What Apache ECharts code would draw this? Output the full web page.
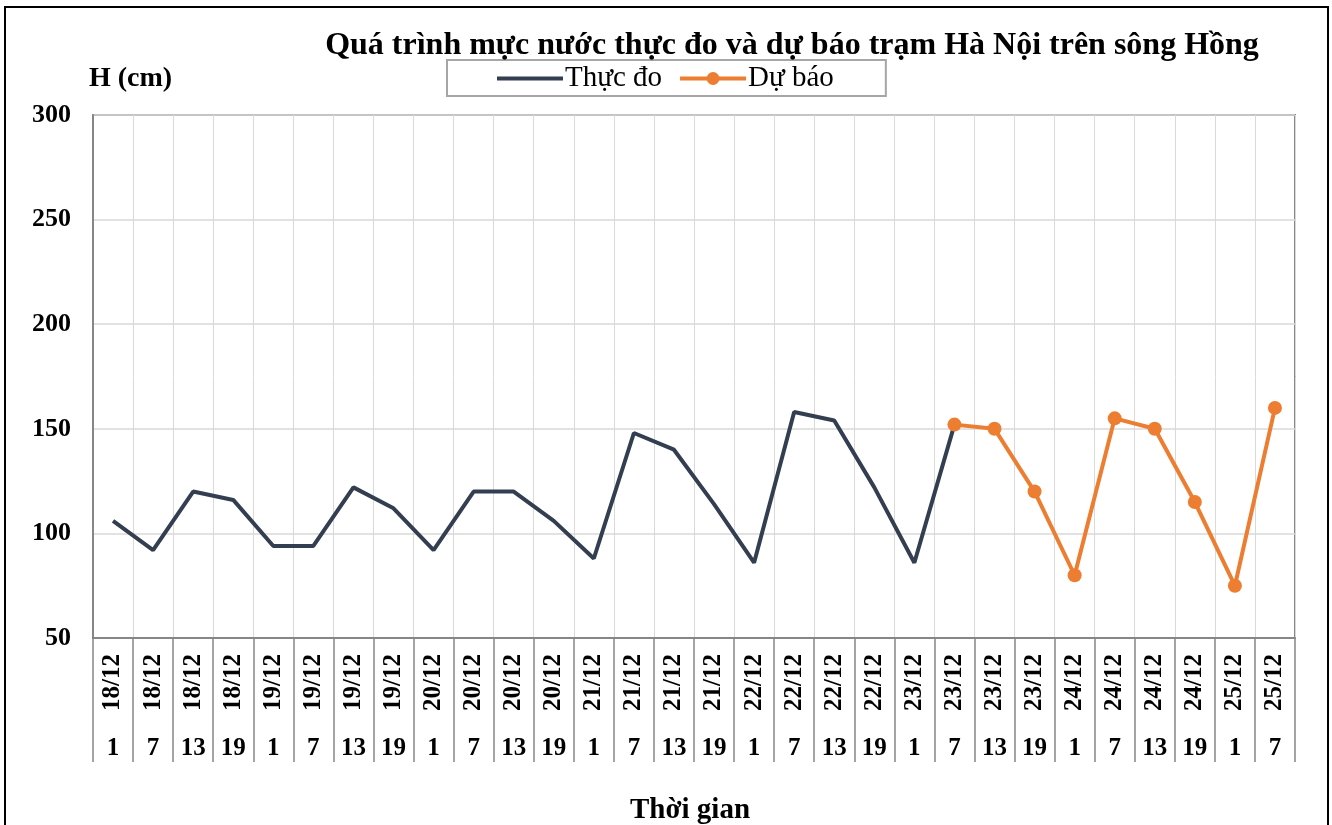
<!DOCTYPE html>
<html>
<head>
<meta charset="utf-8">
<script src="https://cdn.jsdelivr.net/npm/echarts@6/dist/echarts.min.js"></script>
<style>
html,body{margin:0;padding:0;background:#fff;}
#chart{width:1332px;height:825px;}
</style>
</head>
<body>
<div id="chart"></div>
<script>
const dateLabels = ['18/12','18/12','18/12','18/12','19/12','19/12','19/12','19/12','20/12','20/12','20/12','20/12','21/12','21/12','21/12','21/12','22/12','22/12','22/12','22/12','23/12','23/12','23/12','23/12','24/12','24/12','24/12','24/12','25/12','25/12'];
const hourLabels = ['1','7','13','19','1','7','13','19','1','7','13','19','1','7','13','19','1','7','13','19','1','7','13','19','1','7','13','19','1','7'];
const observed = [106,92,120,116,94,94,122,112,92,120,120,106,88,148,140,114,86,158,154,122,86,152,null,null,null,null,null,null,null,null];
const forecast = [null,null,null,null,null,null,null,null,null,null,null,null,null,null,null,null,null,null,null,null,null,152,150,120,80,155,150,115,75,160];
const yTicks = {min:50, max:300, interval:50};

const SERIF = '"Liberation Serif","Times New Roman",serif';
const chart = echarts.init(document.getElementById('chart'), null, {renderer:'canvas'});
chart.setOption({
  animation:false,
  backgroundColor:'#fff',
  title:[
    {text:'Quá trình mực nước thực đo và dự báo trạm Hà Nội trên sông Hồng', left:787, top:25, textAlign:'center',
     textStyle:{fontFamily:SERIF, fontWeight:'bold', fontSize:32, color:'#000'}},
    {text:'H (cm)', left:84, top:60, textStyle:{fontFamily:SERIF, fontWeight:'bold', fontSize:28, color:'#000'}},
    {text:'Thời gian', left:685, top:791, textAlign:'center', textStyle:{fontFamily:SERIF, fontWeight:'bold', fontSize:29, color:'#000'}}
  ],
  legend:{
    left:447, top:60, padding:[4,52,3,48], itemGap:16, itemWidth:66, itemHeight:16,
    borderColor:'#a6a6a6', borderWidth:2,
    textStyle:{fontFamily:SERIF, fontSize:29, color:'#000', padding:[0,0,0,-3]},
    data:[
      {name:'Thực đo', itemStyle:{opacity:0}, lineStyle:{width:4, color:'#333f50'}},
      {name:'Dự báo', lineStyle:{width:4, color:'#ed7d31'}}
    ]
  },
  graphic:[{type:'rect', shape:{x:5,y:7,width:1323,height:830}, style:{fill:'none', stroke:'#000', lineWidth:2}, silent:true}],
  grid:{left:93, right:37, top:115, bottom:187, show:true, borderColor:'#868686', borderWidth:2, containLabel:false},
  xAxis:[
    {type:'category', data:dateLabels, boundaryGap:true, gridIndex:0,
     axisLine:{show:true, lineStyle:{color:'#868686', width:2}},
     axisTick:{show:true, interval:0, length:124, lineStyle:{color:'#868686', width:1.5}},
     splitLine:{show:true, interval:0, lineStyle:{color:'#d9d9d9', width:1}},
     axisLabel:{interval:0, rotate:90, margin:16, fontFamily:SERIF, fontWeight:'bold', fontSize:25, color:'#000'}},
    {type:'category', data:hourLabels, boundaryGap:true, gridIndex:0, position:'bottom',
     axisLine:{show:false}, axisTick:{show:false}, splitLine:{show:false},
     axisLabel:{interval:0, margin:98, fontFamily:SERIF, fontWeight:'bold', fontSize:25, color:'#000'}}
  ],
  yAxis:{type:'value', min:yTicks.min, max:yTicks.max, interval:yTicks.interval,
    axisLine:{show:true, lineStyle:{color:'#868686', width:2}},
    axisTick:{show:false},
    splitLine:{show:true, lineStyle:{color:'#d9d9d9', width:1.5}},
    axisLabel:{margin:22, fontFamily:SERIF, fontWeight:'bold', fontSize:26, color:'#000'}},
  series:[
    {name:'Thực đo', type:'line', xAxisIndex:0, data:observed, symbol:'none', connectNulls:false,
     lineStyle:{color:'#333f50', width:4}, itemStyle:{color:'#333f50'}, z:2},
    {name:'Dự báo', type:'line', xAxisIndex:0, data:forecast, symbol:'circle', symbolSize:14, showSymbol:true,
     lineStyle:{color:'#ed7d31', width:4}, itemStyle:{color:'#ed7d31'}, z:3}
  ]
});
</script>
</body>
</html>
